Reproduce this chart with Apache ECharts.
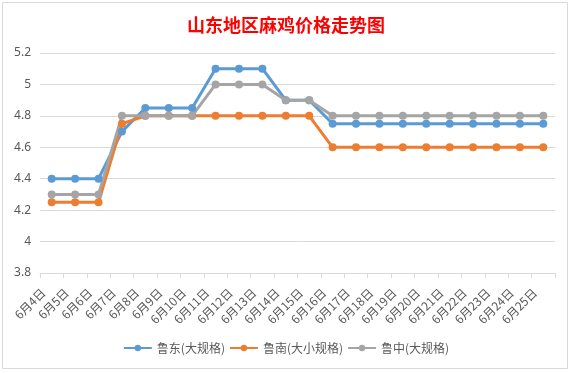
<!DOCTYPE html>
<html><head><meta charset="utf-8">
<script src="https://cdn.jsdelivr.net/npm/echarts@6/dist/echarts.min.js"></script>
<style>html,body{margin:0;padding:0;background:#fff}#c{width:572px;height:373px}</style>
</head><body><div id="c"></div>
<script>
const titleText = '山东地区麻鸡价格走势图';
const categories = ['6月4日','6月5日','6月6日','6月7日','6月8日','6月9日','6月10日','6月11日','6月12日','6月13日','6月14日','6月15日','6月16日','6月17日','6月18日','6月19日','6月20日','6月21日','6月22日','6月23日','6月24日','6月25日'];
const seriesNames = ['鲁东(大规格)','鲁南(大小规格)','鲁中(大规格)'];
const ludong = [4.4,4.4,4.4,4.7,4.85,4.85,4.85,5.1,5.1,5.1,4.9,4.9,4.75,4.75,4.75,4.75,4.75,4.75,4.75,4.75,4.75,4.75];
const lunan = [4.25,4.25,4.25,4.75,4.8,4.8,4.8,4.8,4.8,4.8,4.8,4.8,4.6,4.6,4.6,4.6,4.6,4.6,4.6,4.6,4.6,4.6];
const luzhong = [4.3,4.3,4.3,4.8,4.8,4.8,4.8,5.0,5.0,5.0,4.9,4.9,4.8,4.8,4.8,4.8,4.8,4.8,4.8,4.8,4.8,4.8];
const yMin = 3.8, yMax = 5.2, yStep = 0.2;
const colors = ['#5B9BD5','#ED7D31','#A5A5A5'];

const chart = echarts.init(document.getElementById('c'), null, {renderer:'canvas'});
const mk = (name, data, color) => ({
  name, type:'line', data, symbol:'circle', symbolSize:8,
  lineStyle:{width:3, color}, itemStyle:{color}, emphasis:{disabled:true}
});
chart.setOption({
  animation:false,
  textStyle:{fontFamily:'"Noto Sans","Noto Sans CJK SC",sans-serif'},
  graphic:[{type:'rect', shape:{x:2.5,y:2.5,width:565,height:366}, style:{fill:null,stroke:'#D9D9D9',lineWidth:1}, silent:true}],
  title:{text:titleText, left:'center', top:11,
    textStyle:{color:'#FF0000', fontSize:18, fontWeight:'bold', fontFamily:'"Noto Sans CJK SC",sans-serif'}},
  grid:{left:40, right:17, top:53, bottom:100, containLabel:false},
  xAxis:{type:'category', data:categories, boundaryGap:true,
    axisLine:{lineStyle:{color:'#D9D9D9'}},
    axisTick:{show:true, alignWithLabel:false, length:5, lineStyle:{color:'#D9D9D9'}},
    axisLabel:{rotate:45, color:'#595959', fontSize:12, margin:9, interval:0, padding:[0,12,0,0],
      fontFamily:'"Noto Sans CJK SC",sans-serif'}},
  yAxis:{type:'value', min:yMin, max:yMax, interval:yStep,
    axisLine:{show:false}, axisTick:{show:false},
    splitLine:{lineStyle:{color:'#D9D9D9'}},
    axisLabel:{color:'#595959', fontSize:12, margin:9, formatter:v=>String(+v.toFixed(1))}},
  legend:{data:seriesNames, top:337, left:'center', itemWidth:28, itemHeight:8, itemGap:4,
    textStyle:{color:'#595959', fontSize:12, fontFamily:'"Noto Sans CJK SC",sans-serif'}},
  series:[mk(seriesNames[0], ludong, colors[0]), mk(seriesNames[1], lunan, colors[1]), mk(seriesNames[2], luzhong, colors[2])]
});
</script></body></html>
